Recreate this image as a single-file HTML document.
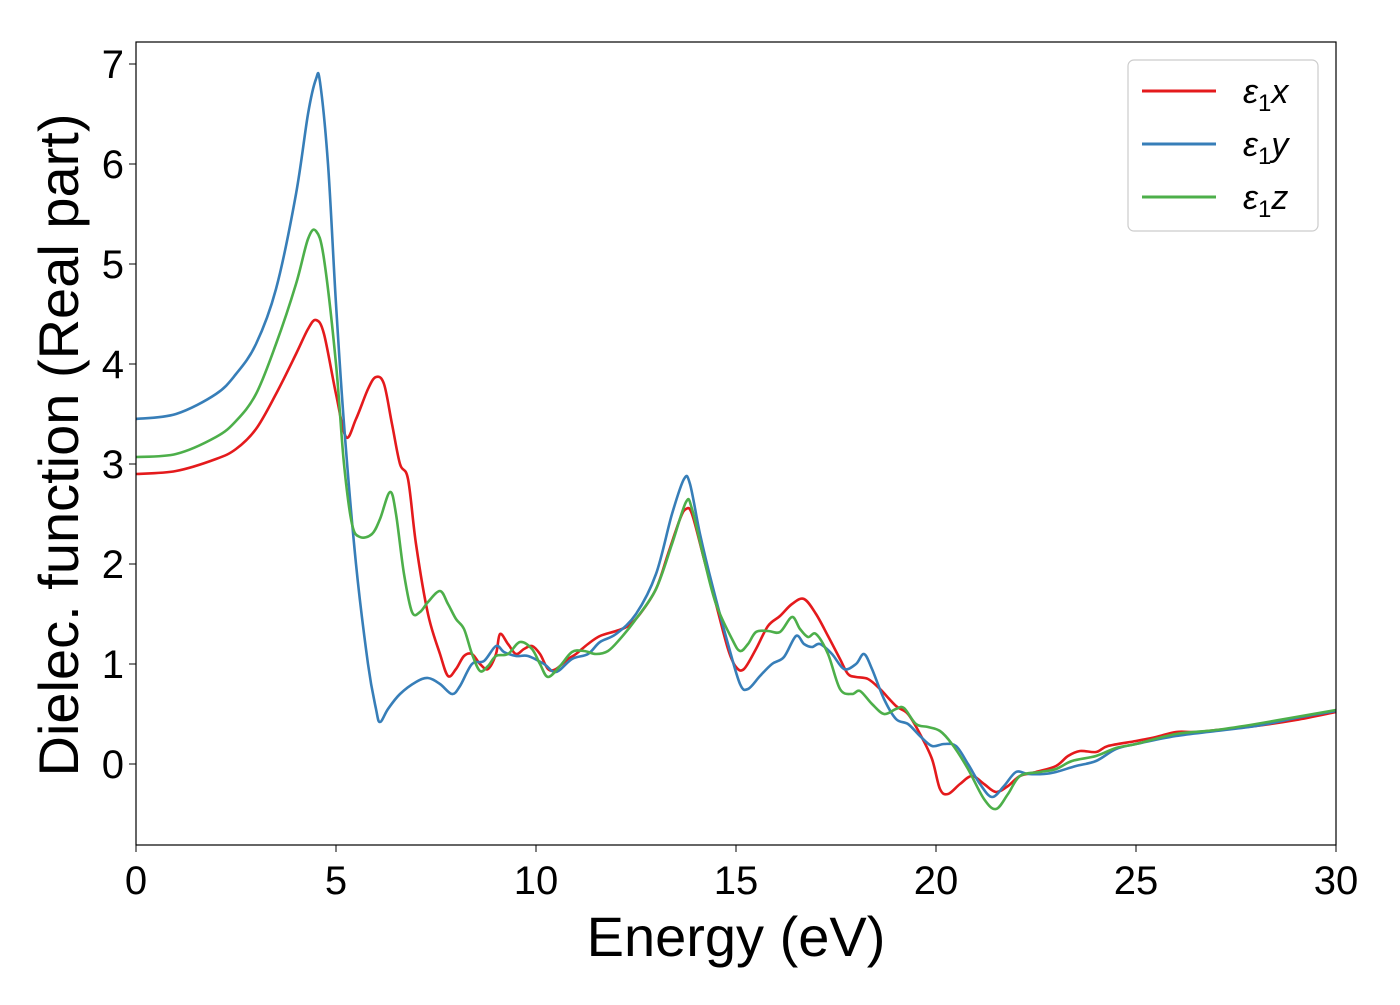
<!DOCTYPE html>
<html><head><meta charset="utf-8"><style>
body{margin:0;background:#fff}
svg text{font-family:"Liberation Sans","DejaVu Sans",sans-serif;fill:#000}
</style></head><body>
<svg width="1400" height="1000" viewBox="0 0 1400 1000" xmlns="http://www.w3.org/2000/svg">
<rect x="0" y="0" width="1400" height="1000" fill="#fff"/>
<g id="series"></g>
<rect x="136" y="42" width="1200" height="803" fill="none" stroke="#000" stroke-width="1.2"/>
<g id="xticks"></g><g id="yticks"></g>
<text x="736" y="956" font-size="56" text-anchor="middle">Energy (eV)</text>
<text transform="translate(78,445) rotate(-90)" font-size="56" text-anchor="middle">Dielec. function (Real part)</text>
<g>
<rect x="1128" y="60" width="190" height="171" rx="6" fill="#fff" stroke="#ccc" stroke-width="1.2" fill-opacity="0.8"/>
<g><line x1="1142" y1="91" x2="1216" y2="91" stroke="#e41a1c" stroke-width="3"/><text x="1243" y="103" font-size="34" font-style="italic">ε<tspan font-style="normal" font-size="24" dy="8">1</tspan><tspan dy="-8">x</tspan></text></g>
<g><line x1="1142" y1="144" x2="1216" y2="144" stroke="#377eb8" stroke-width="3"/><text x="1243" y="156" font-size="34" font-style="italic">ε<tspan font-style="normal" font-size="24" dy="8">1</tspan><tspan dy="-8">y</tspan></text></g>
<g><line x1="1142" y1="197" x2="1216" y2="197" stroke="#4daf4a" stroke-width="3"/><text x="1243" y="209" font-size="34" font-style="italic">ε<tspan font-style="normal" font-size="24" dy="8">1</tspan><tspan dy="-8">z</tspan></text></g>
</g>
</svg>
<script>
const xTicks=[0,5,10,15,20,25,30];
const yTicks=[0,1,2,3,4,5,6,7];
const redX=[0,1,2,2.5,3,3.5,4,4.3,4.5,4.7,5,5.25,5.5,5.8,6,6.2,6.4,6.6,6.8,7,7.3,7.6,7.8,8,8.2,8.4,8.6,8.8,9,9.1,9.3,9.5,9.7,9.9,10.1,10.3,10.5,10.8,11,11.3,11.6,12,12.3,12.6,13,13.3,13.6,13.75,13.9,14.2,14.5,14.8,15,15.2,15.5,15.8,16.1,16.4,16.7,17,17.3,17.6,17.8,18,18.3,18.6,19,19.3,19.6,19.9,20.1,20.3,20.6,20.9,21.2,21.5,21.8,22.1,22.5,23,23.3,23.6,24,24.3,25,25.5,26,26.5,27,28,29,30];
const redY=[2.9,2.93,3.05,3.15,3.35,3.7,4.1,4.35,4.44,4.3,3.7,3.27,3.45,3.75,3.87,3.8,3.4,3.0,2.85,2.2,1.5,1.1,0.88,0.95,1.08,1.1,1.0,0.95,1.1,1.3,1.2,1.1,1.15,1.18,1.1,0.95,0.95,1.05,1.1,1.2,1.28,1.33,1.38,1.5,1.75,2.1,2.45,2.55,2.5,2.05,1.6,1.15,0.97,0.95,1.15,1.38,1.48,1.6,1.65,1.5,1.28,1.05,0.9,0.87,0.85,0.75,0.58,0.5,0.3,0.05,-0.25,-0.3,-0.2,-0.12,-0.2,-0.28,-0.22,-0.12,-0.08,-0.02,0.08,0.13,0.12,0.18,0.23,0.27,0.32,0.32,0.34,0.38,0.44,0.52];
const blueX=[0,1,2,2.5,3,3.5,4,4.3,4.5,4.6,4.8,5,5.2,5.5,5.8,6,6.1,6.3,6.6,7,7.3,7.6,7.9,8.1,8.4,8.7,9,9.2,9.5,9.8,10.2,10.5,10.9,11.3,11.6,12,12.5,13,13.4,13.7,13.85,14.1,14.4,14.8,15.1,15.3,15.6,15.9,16.2,16.5,16.7,16.9,17.1,17.4,17.7,18,18.2,18.4,18.7,19,19.3,19.6,19.9,20.2,20.5,20.8,21.1,21.4,21.7,22,22.3,22.7,23,23.5,24,24.5,25,26,27,28,29,30];
const blueY=[3.45,3.5,3.7,3.9,4.2,4.75,5.7,6.5,6.85,6.82,6.0,4.6,3.4,2.0,1.0,0.55,0.42,0.55,0.7,0.82,0.86,0.8,0.7,0.78,1.0,1.03,1.18,1.12,1.08,1.08,1.0,0.92,1.05,1.1,1.22,1.3,1.5,1.9,2.5,2.85,2.8,2.3,1.8,1.2,0.8,0.75,0.88,1.0,1.07,1.28,1.2,1.17,1.2,1.1,0.95,1.0,1.1,0.95,0.65,0.45,0.4,0.28,0.18,0.2,0.18,0.0,-0.2,-0.33,-0.22,-0.08,-0.1,-0.1,-0.08,-0.02,0.03,0.15,0.2,0.28,0.33,0.38,0.46,0.53];
const greenX=[0,1,2,2.5,3,3.5,4,4.3,4.5,4.7,5,5.2,5.4,5.6,5.9,6.1,6.35,6.5,6.7,6.9,7.1,7.3,7.6,7.8,8,8.2,8.4,8.6,8.8,9,9.3,9.6,9.9,10.1,10.3,10.6,10.9,11.2,11.5,11.8,12.1,12.5,13,13.4,13.75,13.9,14.2,14.5,14.9,15.1,15.3,15.5,15.8,16.1,16.4,16.6,16.8,17,17.3,17.6,17.9,18.1,18.4,18.7,19,19.2,19.5,19.8,20.1,20.4,20.8,21.2,21.5,21.8,22.1,22.6,23,23.4,24,24.5,25,26,27,28,29,30];
const greenY=[3.07,3.1,3.27,3.43,3.7,4.2,4.8,5.25,5.33,5.05,4.0,3.0,2.4,2.27,2.3,2.45,2.72,2.5,1.9,1.52,1.52,1.62,1.73,1.6,1.45,1.35,1.1,0.93,0.98,1.08,1.1,1.22,1.15,1.0,0.87,0.98,1.12,1.13,1.1,1.13,1.25,1.45,1.75,2.2,2.62,2.55,2.05,1.6,1.25,1.13,1.2,1.32,1.33,1.32,1.47,1.35,1.27,1.3,1.1,0.75,0.7,0.73,0.6,0.5,0.55,0.56,0.4,0.37,0.33,0.2,-0.05,-0.35,-0.45,-0.3,-0.12,-0.08,-0.05,0.03,0.08,0.16,0.2,0.3,0.34,0.4,0.47,0.54];
const NS='http://www.w3.org/2000/svg';
function sx(v){return 136+v*40;}
function sy(v){return 764-v*100;}
function catmull(xs,ys){
  const p=xs.map((x,i)=>[sx(x),sy(ys[i])]);
  let d='M'+p[0][0]+','+p[0][1];
  for(let i=0;i<p.length-1;i++){
    const p0=p[Math.max(0,i-1)],p1=p[i],p2=p[i+1],p3=p[Math.min(p.length-1,i+2)];
    const c1x=p1[0]+(p2[0]-p0[0])/6,c1y=p1[1]+(p2[1]-p0[1])/6;
    const c2x=p2[0]-(p3[0]-p1[0])/6,c2y=p2[1]-(p3[1]-p1[1])/6;
    d+=' C'+c1x.toFixed(1)+','+c1y.toFixed(1)+' '+c2x.toFixed(1)+','+c2y.toFixed(1)+' '+p2[0].toFixed(1)+','+p2[1].toFixed(1);
  }
  return d;
}
const g=document.getElementById('series');
[[redX,redY,'#e41a1c','series-e1x'],[blueX,blueY,'#377eb8','series-e1y'],[greenX,greenY,'#4daf4a','series-e1z']].forEach(s=>{
  const path=document.createElementNS(NS,'path');
  path.setAttribute('d',catmull(s[0],s[1]));
  path.setAttribute('fill','none');
  path.setAttribute('stroke',s[2]);
  path.setAttribute('stroke-width','2.6');
  
  
  g.appendChild(path);
});
const xt=document.getElementById('xticks');
xTicks.forEach(v=>{
  const l=document.createElementNS(NS,'line');
  l.setAttribute('x1',sx(v));l.setAttribute('x2',sx(v));l.setAttribute('y1',845);l.setAttribute('y2',852);l.setAttribute('stroke','#000');
  
  
  xt.appendChild(l);
  const t=document.createElementNS(NS,'text');
  t.setAttribute('x',sx(v));t.setAttribute('y',894);t.setAttribute('font-size','40');t.setAttribute('text-anchor','middle');
  t.textContent=v;
  
  
  xt.appendChild(t);
});
const yt=document.getElementById('yticks');
yTicks.forEach(v=>{
  const l=document.createElementNS(NS,'line');
  l.setAttribute('x1',129);l.setAttribute('x2',136);l.setAttribute('y1',sy(v));l.setAttribute('y2',sy(v));l.setAttribute('stroke','#000');
  
  
  yt.appendChild(l);
  const t=document.createElementNS(NS,'text');
  t.setAttribute('x',124);t.setAttribute('y',sy(v)+14);t.setAttribute('font-size','40');t.setAttribute('text-anchor','end');
  t.textContent=v;
  
  
  yt.appendChild(t);
});
</script>
</body></html>
